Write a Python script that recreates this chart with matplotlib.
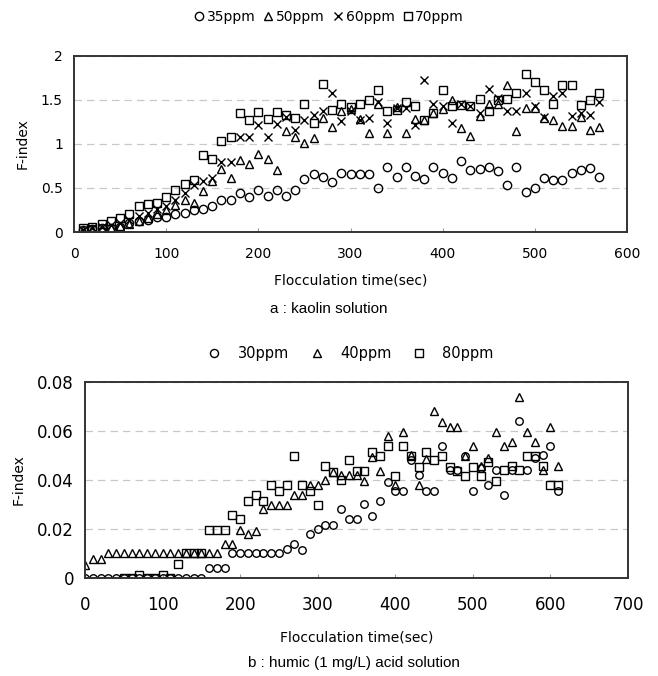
import numpy as np
import matplotlib.pyplot as plt
from matplotlib.lines import Line2D

# ---- (a) kaolin solution: F-index vs flocculation time ----
t_kaolin = list(range(10, 571, 10))
kaolin_35 = [0.02, 0.03, 0.04, 0.05, 0.06, 0.10, 0.13, 0.14, 0.17, 0.17,
             0.20, 0.22, 0.25, 0.26, 0.29, 0.36, 0.36, 0.44, 0.40, 0.48,
             0.41, 0.48, 0.41, 0.48, 0.60, 0.66, 0.62, 0.57, 0.67, 0.66,
             0.66, 0.66, 0.50, 0.74, 0.63, 0.74, 0.64, 0.60, 0.74, 0.67,
             0.61, 0.81, 0.70, 0.72, 0.74, 0.69, 0.53, 0.74, 0.46, 0.50,
             0.61, 0.59, 0.59, 0.67, 0.71, 0.73, 0.63]
kaolin_50 = [0.02, 0.03, 0.04, 0.05, 0.07, 0.09, 0.12, 0.16, 0.20, 0.25,
             0.31, 0.36, 0.33, 0.47, 0.58, 0.72, 0.61, 0.82, 0.77, 0.89,
             0.83, 0.70, 1.15, 1.08, 1.01, 1.07, 1.30, 1.19, 1.38, 1.40,
             1.28, 1.13, 1.45, 1.12, 1.42, 1.13, 1.28, 1.27, 1.35, 1.40,
             1.50, 1.18, 1.09, 1.32, 1.46, 1.45, 1.67, 1.15, 1.41, 1.41,
             1.30, 1.27, 1.20, 1.20, 1.31, 1.16, 1.19]
kaolin_60 = [0.02, 0.04, 0.06, 0.08, 0.10, 0.14, 0.18, 0.22, 0.26, 0.30,
             0.36, 0.44, 0.53, 0.58, 0.61, 0.80, 0.80, 1.08, 1.08, 1.22,
             1.08, 1.23, 1.31, 1.16, 1.27, 1.33, 1.38, 1.58, 1.26, 1.37,
             1.27, 1.29, 1.48, 1.24, 1.41, 1.41, 1.22, 1.73, 1.46, 1.43,
             1.24, 1.46, 1.43, 1.35, 1.62, 1.52, 1.37, 1.37, 1.58, 1.43,
             1.31, 1.54, 1.58, 1.32, 1.35, 1.33, 1.48]
kaolin_70 = [0.04, 0.06, 0.09, 0.12, 0.16, 0.20, 0.29, 0.32, 0.33, 0.40,
             0.48, 0.55, 0.59, 0.87, 0.83, 1.03, 1.08, 1.35, 1.27, 1.36,
             1.28, 1.36, 1.33, 1.29, 1.45, 1.24, 1.68, 1.39, 1.46, 1.42,
             1.46, 1.50, 1.61, 1.37, 1.39, 1.48, 1.43, 1.27, 1.35, 1.61,
             1.43, 1.44, 1.43, 1.51, 1.38, 1.50, 1.51, 1.58, 1.80, 1.70,
             1.61, 1.45, 1.67, 1.67, 1.44, 1.50, 1.58]

# ---- (b) humic acid solution ----
t_humic = list(range(0, 611, 10))
humic_30 = [0.0] * 16 + [0.004, 0.004, 0.004] + [0.01] * 7 + [
    0.012, 0.014, 0.0115, 0.018, 0.020, 0.0215, 0.0215, 0.028, 0.024, 0.024,
    0.030, 0.0255, 0.0315, 0.039, 0.0355, 0.0355, 0.048, 0.042, 0.0355, 0.0355,
    0.054, 0.044, 0.044, 0.0498, 0.0355, 0.045, 0.038, 0.044, 0.034, 0.044,
    0.064, 0.044, 0.049, 0.050, 0.054, 0.0355]
humic_40 = [0.0053, 0.0076, 0.0076] + [0.01] * 15 + [
    0.014, 0.014, 0.0196, 0.018, 0.0193, 0.028, 0.0298, 0.0298, 0.0298, 0.034,
    0.034, 0.038, 0.038, 0.040, 0.0434, 0.042, 0.042, 0.042, 0.0396, 0.0495,
    0.0436, 0.058, 0.038, 0.0597, 0.050, 0.038, 0.0484, 0.068, 0.0638, 0.0615,
    0.0615, 0.0498, 0.054, 0.0456, 0.049, 0.0597, 0.054, 0.0556, 0.074, 0.0597,
    0.0556, 0.044, 0.0615, 0.0457]
t_humic_80 = list(range(50, 611, 10))
humic_80 = [0.0, 0.0, 0.0012, 0.0, 0.0, 0.0012, 0.0, 0.0056, 0.01, 0.01,
            0.01, 0.0196, 0.0196, 0.0196, 0.0257, 0.024, 0.0316, 0.034, 0.0316, 0.038,
            0.0355, 0.038, 0.0499, 0.038, 0.0355, 0.0298, 0.0458, 0.0434, 0.040, 0.048,
            0.0438, 0.0438, 0.0516, 0.0498, 0.054, 0.0416, 0.054, 0.0498, 0.0454, 0.0516,
            0.048, 0.0498, 0.0454, 0.0438, 0.0416, 0.0454, 0.0416, 0.0475, 0.0397, 0.044,
            0.0457, 0.044, 0.0498, 0.0498, 0.0457, 0.038, 0.038]

fig = plt.figure(figsize=(6.58, 6.76), dpi=100)
grid_kw = dict(color='#c8c8c8', linestyle=(0, (6, 4)), linewidth=0.9)


def style_axes(ax, tick_size, xpad):
    for s in ax.spines.values():
        s.set_linewidth(1.4)
        s.set_color('#333333')
    ax.yaxis.grid(True, **grid_kw)
    ax.set_axisbelow(True)
    ax.tick_params(axis='x', direction='in', length=3, width=0.8,
                   labelsize=tick_size, pad=xpad, color='#999999')
    ax.tick_params(axis='y', length=0, labelsize=tick_size, pad=8)
    ax.set_ylabel('F-index', fontsize=10, labelpad=8)


mk = dict(linestyle='none', markerfacecolor='none', markeredgecolor='black',
          markeredgewidth=1.0, color='black')

# ---------------- top panel ----------------
ax1 = fig.add_axes([0.1125, 0.6568, 0.8404, 0.2604])
ax1.plot(t_kaolin, kaolin_35, marker='o', ms=6, **mk)
ax1.plot(t_kaolin, kaolin_50, marker='^', ms=6.3, **mk)
ax1.plot(t_kaolin, kaolin_60, marker='x', ms=6.3, **mk)
ax1.plot(t_kaolin, kaolin_70, marker='s', ms=6, **mk)
ax1.set_xlim(0, 600)
ax1.set_ylim(0, 2)
ax1.set_xticks(range(0, 601, 100))
ax1.set_yticks([0, 0.5, 1, 1.5, 2])
ax1.set_yticklabels(['0', '0.5', '1', '1.5', '2'])
style_axes(ax1, 10, 11)
ax1.set_xlabel('Flocculation time(sec)', fontsize=10, labelpad=9)

h1 = [Line2D([], [], marker=m, ms=6, **mk) for m in ['o', '^', 'x', 's']]
fig.legend(h1, ['35ppm', '50ppm', '60ppm', '70ppm'], loc='center',
           bbox_to_anchor=(0.5, 0.975), ncol=4, frameon=False, fontsize=10,
           handlelength=0.7, handletextpad=0.2, columnspacing=0.6)
fig.text(0.5, 0.543, 'a : kaolin solution', ha='center', va='center',
         fontsize=11, family='Liberation Sans')

# ---------------- bottom panel ----------------
ax2 = fig.add_axes([0.1292, 0.145, 0.8252, 0.2899])
ax2.plot(t_humic, humic_30, marker='o', ms=5.4, **mk)
ax2.plot(t_humic, humic_40, marker='^', ms=6, **mk)
ax2.plot(t_humic_80, humic_80, marker='s', ms=5.8, **mk)
ax2.set_xlim(0, 700)
ax2.set_ylim(0, 0.08)
ax2.set_xticks(range(0, 701, 100))
ax2.set_yticks([0, 0.02, 0.04, 0.06, 0.08])
ax2.set_yticklabels(['0', '0.02', '0.04', '0.06', '0.08'])
style_axes(ax2, 12, 13)
ax2.set_xlabel('Flocculation time(sec)', fontsize=10, labelpad=12)

h2 = [Line2D([], [], marker=m, ms=5.8, **mk) for m in ['o', '^', 's']]
ax2.legend(h2, ['30ppm', '40ppm', '80ppm'], loc='center',
           bbox_to_anchor=(0.49, 1.145), ncol=3, frameon=False, fontsize=10.5,
           handlelength=0.8, handletextpad=1.2, columnspacing=1.5)
fig.text(0.538, 0.019, 'b : humic (1 mg/L) acid solution', ha='center',
         va='center', fontsize=11, family='Liberation Sans')

fig.savefig('out.png', dpi=100)
